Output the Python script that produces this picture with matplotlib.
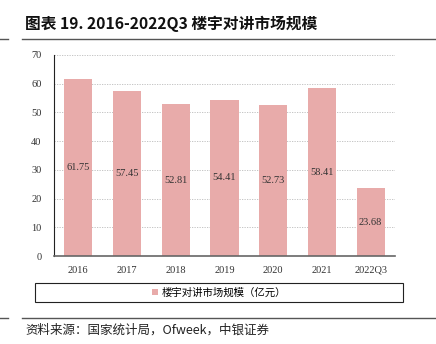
import matplotlib
matplotlib.use('Agg')
from matplotlib import pyplot as plt
from matplotlib.lines import Line2D
from matplotlib.patches import Rectangle
import numpy as np

plt.rcParams['font.family'] = ['Noto Sans CJK SC', 'DejaVu Sans']

years = ['2016', '2017', '2018', '2019', '2020', '2021', '2022Q3']
market = [61.75, 57.45, 52.81, 54.41, 52.73, 58.41, 23.68]
labels = ['61.75', '57.45', '52.81', '54.41', '52.73', '58.41', '23.68']
yticks = [0, 10, 20, 30, 40, 50, 60, 70]

W, H = 436, 344
fig = plt.figure(figsize=(W / 100, H / 100), dpi=100)
ax = fig.add_axes([54 / W, 1 - 256 / H, (395 - 54) / W, (256 - 55) / H])

x = np.arange(len(years))
bars = ax.bar(x, market, width=0.58, color='#e8abaa', zorder=2,
              label='楼宇对讲市场规模（亿元）')
for xi, v, t in zip(x, market, labels):
    ax.text(xi, v / 2, t, ha='center', va='center', fontsize=7.5,
            family='Liberation Serif', color='#333333', zorder=3)

ax.set_ylim(0, 70)
ax.set_xlim(-0.5, len(years) - 0.5)
ax.set_yticks(yticks)
ax.set_xticks(x)
ax.set_xticklabels(years, family='Liberation Serif', fontsize=7.5)
ax.set_yticklabels([str(v) for v in yticks], family='Liberation Serif', fontsize=7.5)
ax.tick_params(axis='y', length=0, pad=9, colors='#333333')
ax.tick_params(axis='x', length=0, pad=7, colors='#333333')
ax.grid(axis='y', linestyle=(0, (1.5, 1.5)), color='#bbbbbb', linewidth=0.6, zorder=0)
for s in ['top', 'right']:
    ax.spines[s].set_visible(False)
ax.spines['left'].set_color('#222222')
ax.spines['left'].set_linewidth(0.8)
ax.spines['bottom'].set_color('#666666')
ax.spines['bottom'].set_linewidth(1.2)

# title and rules
fig.text(25 / W, 1 - 24 / H, '图表 19. 2016-2022Q3 楼宇对讲市场规模', fontsize=11.3,
         fontweight='bold', va='center', ha='left', color='#111111')
for yy in (39, 318):
    fig.add_artist(Line2D([0, 8 / W], [1 - yy / H] * 2, color='#555555', lw=1))
    fig.add_artist(Line2D([22 / W, 1], [1 - yy / H] * 2, color='#555555', lw=1))

# legend box
fig.add_artist(Rectangle((35 / W, 1 - 302 / H), 368 / W, 19 / H, fill=False,
                         edgecolor='#222222', lw=0.8, transform=fig.transFigure))
fig.legend(handles=[bars], loc='center', bbox_to_anchor=(219 / W, 1 - 292.5 / H),
           frameon=False, fontsize=7.5, handlelength=0.6, handleheight=0.6,
           handletextpad=0.3)

fig.text(25 / W, 1 - 330 / H, '资料来源：国家统计局，Ofweek，中银证券', fontsize=9,
         va='center', ha='left', color='#222222', style='italic')

fig.savefig('out.png', dpi=100)
